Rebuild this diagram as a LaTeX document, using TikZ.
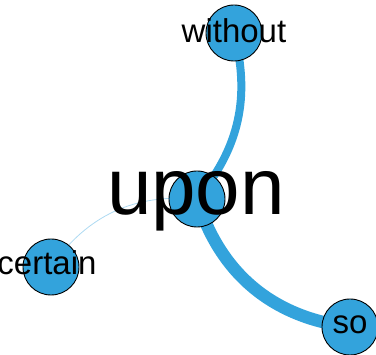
\documentclass[tikz,border=0pt]{standalone}
\usepackage{fontspec}
\setmainfont{Liberation Sans}
\definecolor{nodeblue}{HTML}{33A3DC}
\definecolor{lightedge}{HTML}{ADDAF2}
\begin{document}
\begin{tikzpicture}[x=1pt,y=-1pt,
  vert/.style={circle,draw=black,line width=0.9pt,fill=nodeblue,minimum size=56pt,inner sep=0pt},
  lbl/.style={anchor=base,inner sep=0pt,text=black,font=\fontsize{33}{40}\selectfont},
  biglbl/.style={anchor=base,inner sep=0pt,text=black,font=\fontsize{80}{96}\selectfont},
  edge/.style={draw=nodeblue,line cap=butt}]
\useasboundingbox (0,0) rectangle (376,355);
\clip (0,0) rectangle (376,355);
\coordinate (cU) at (197,199);
\coordinate (cW) at (234,33);
\coordinate (cC) at (51,267);
\coordinate (cS) at (350,327);
\draw[edge,line width=8pt] (cU) to[bend right=27] (cW);
\draw[edge,line width=12.5pt] (cU) to[bend right=33] (cS);
\draw[draw=lightedge,line width=0.8pt] (cU) to[bend right=30] (cC);
\node[vert] (upon) at (cU) {};
\node[vert] (without) at (cW) {};
\node[vert] (certain) at (cC) {};
\node[vert] (so) at (cS) {};
\node[lbl] (tw) at (234,43) {without};
\node[lbl] (tc) at (47,275) {certain};
\node[lbl] (ts) at (350,334) {so};
\node[biglbl] (tu) at (196,215) {upon};
\end{tikzpicture}
\end{document}
